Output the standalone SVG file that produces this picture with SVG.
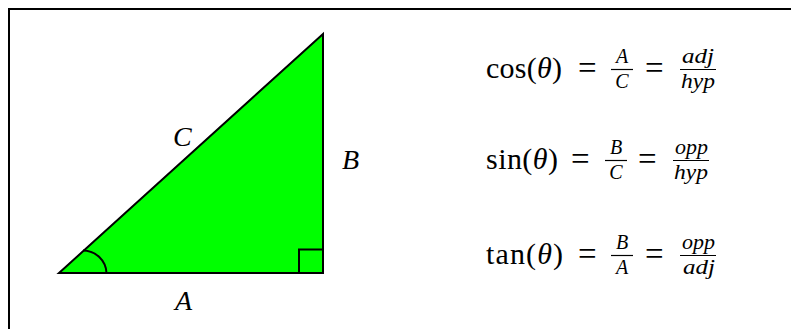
<svg xmlns="http://www.w3.org/2000/svg" width="791" height="329" viewBox="0 0 791 329">
<style>
.t{font-family:"Liberation Serif","DejaVu Serif",serif;fill:#000}
.i{font-style:italic}
.big{font-size:30px}
.eq{font-size:33px}
.lb{font-size:28px}
.sm{font-size:20px}
.ln{stroke:#000;stroke-width:2;fill:none}
.bar{stroke:#000;stroke-width:1.2}
</style>
<rect x="9" y="9" width="800" height="340" fill="#fff" stroke="#000" stroke-width="2"/>
<g id="triangle">
<polygon points="59,273 323,34 323,273" fill="#00ff00" stroke="#000" stroke-width="2" stroke-linejoin="miter"/>
<path class="ln" d="M83,250.5 A23.5,23.5 0 0 1 106.5,273"/>
<path class="ln" d="M299,273 V249.5 H323"/>
</g>
<g id="labels">
<text class="t i lb" x="173" y="146">C</text>
<text class="t i lb" x="342" y="169">B</text>
<text class="t i lb" x="175" y="310">A</text>
</g>
<g id="cos">
<text class="t big" x="486" y="78" textLength="76" lengthAdjust="spacing">cos(<tspan class="i">θ</tspan>)</text>
<text class="t eq" x="578" y="79">=</text>
<text class="t i sm" x="622" y="63" text-anchor="middle">A</text>
<line class="bar" x1="611" y1="69.5" x2="633" y2="69.5"/>
<text class="t i sm" x="622" y="88" text-anchor="middle">C</text>
<text class="t eq" x="645" y="79">=</text>
<text class="t i sm" x="682" y="63" textLength="32" lengthAdjust="spacingAndGlyphs">adj</text>
<line class="bar" x1="680" y1="69.5" x2="716" y2="69.5"/>
<text class="t i sm" x="681" y="88" textLength="34" lengthAdjust="spacingAndGlyphs">hyp</text>
</g>
<g id="sin">
<text class="t big" x="486" y="169" textLength="72" lengthAdjust="spacing">sin(<tspan class="i">θ</tspan>)</text>
<text class="t eq" x="571" y="170">=</text>
<text class="t i sm" x="616" y="154" text-anchor="middle">B</text>
<line class="bar" x1="605" y1="160.5" x2="627" y2="160.5"/>
<text class="t i sm" x="616" y="179" text-anchor="middle">C</text>
<text class="t eq" x="638" y="170">=</text>
<text class="t i sm" x="675" y="154" textLength="33" lengthAdjust="spacingAndGlyphs">opp</text>
<line class="bar" x1="673" y1="160.5" x2="709" y2="160.5"/>
<text class="t i sm" x="674" y="179" textLength="34" lengthAdjust="spacingAndGlyphs">hyp</text>
</g>
<g id="tan">
<text class="t big" x="486" y="264" textLength="77" lengthAdjust="spacing">tan(<tspan class="i">θ</tspan>)</text>
<text class="t eq" x="578" y="265">=</text>
<text class="t i sm" x="622" y="249" text-anchor="middle">B</text>
<line class="bar" x1="611" y1="255.5" x2="633" y2="255.5"/>
<text class="t i sm" x="622" y="274" text-anchor="middle">A</text>
<text class="t eq" x="645" y="265">=</text>
<text class="t i sm" x="682" y="249" textLength="33" lengthAdjust="spacingAndGlyphs">opp</text>
<line class="bar" x1="680" y1="255.5" x2="716" y2="255.5"/>
<text class="t i sm" x="683" y="274" textLength="32" lengthAdjust="spacingAndGlyphs">adj</text>
</g>
</svg>
